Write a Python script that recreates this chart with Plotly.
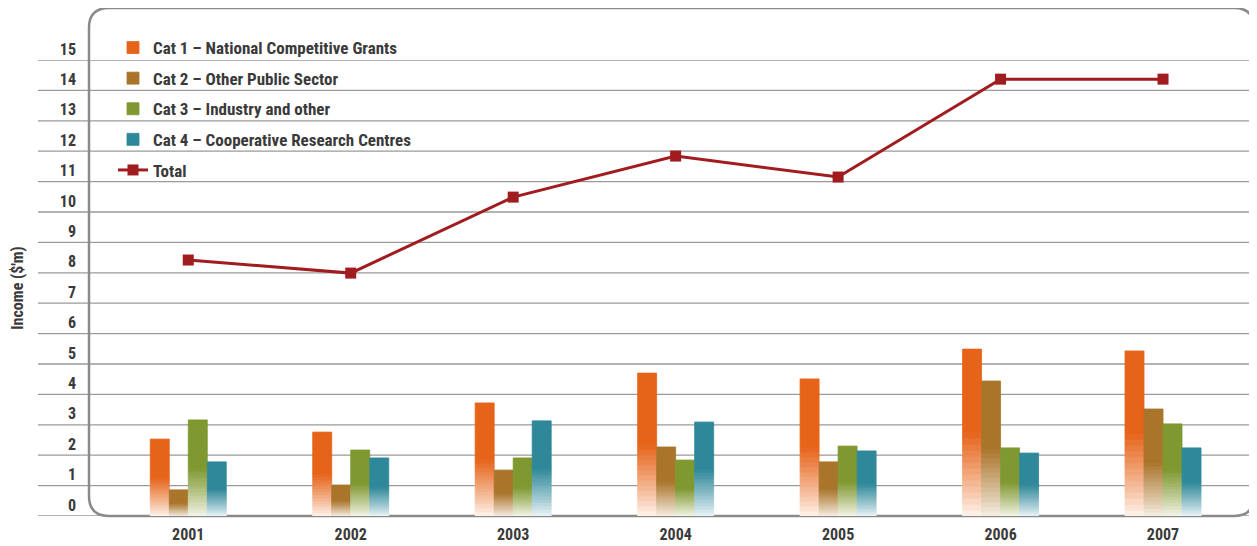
import numpy as np
import plotly.graph_objects as go

years = ["2001", "2002", "2003", "2004", "2005", "2006", "2007"]
cat_names = [
    "Cat 1 – National Competitive Grants",
    "Cat 2 – Other Public Sector",
    "Cat 3 – Industry and other",
    "Cat 4 – Cooperative Research Centres",
]
cat1 = [2.53, 2.76, 3.72, 4.70, 4.51, 5.49, 5.43]
cat2 = [0.86, 1.02, 1.51, 2.27, 1.78, 4.44, 3.52]
cat3 = [3.16, 2.17, 1.91, 1.84, 2.30, 2.24, 3.03]
cat4 = [1.78, 1.91, 3.13, 3.09, 2.14, 2.07, 2.24]
total = [8.42, 7.99, 10.49, 11.84, 11.15, 14.37, 14.37]
y_ticks = list(range(0, 16))

cat_colors = ["#e6641a", "#a9752b", "#7f9830", "#2f8899"]
pale_colors = ["#fff6ef", "#f8f1e8", "#f6f7ec", "#eef6f9"]
line_color = "#a11c1e"

FONT = "Liberation Sans Narrow, Arial Narrow, Roboto Condensed, sans-serif"
TEXT = "#3a3a3a"

def hex2rgb(h):
    h = h.lstrip("#")
    return np.array([int(h[i:i + 2], 16) for i in (0, 2, 4)], dtype=float)

def mix(c0, c1, t):
    c = hex2rgb(c0) * (1 - t) + hex2rgb(c1) * t
    return "rgb(%d,%d,%d)" % tuple(np.round(c).astype(int))

fig = go.Figure()

series = [cat1, cat2, cat3, cat4]
bar_w = 0.117
n_seg = 14
frac = 0.5
for ci, vals in enumerate(series):
    v = np.array(vals, dtype=float)
    off = -2 * bar_w + ci * bar_w
    # gradient segments (bottom part)
    for j in range(n_seg):
        t = (j + 0.5) / n_seg
        col = mix(pale_colors[ci], cat_colors[ci], t ** 0.9)
        fig.add_trace(go.Bar(
            x=years, y=v * frac / n_seg, base=v * frac * j / n_seg,
            offset=off, width=bar_w,
            marker=dict(color=col, line=dict(color=col, width=0.8)),
            showlegend=False, legendgroup="c%d" % ci, hoverinfo="skip",
        ))
    # solid top
    fig.add_trace(go.Bar(
        x=years, y=v * (1 - frac), base=v * frac,
        offset=off, width=bar_w,
        marker=dict(color=cat_colors[ci], line=dict(color=cat_colors[ci], width=0.8)),
        name=cat_names[ci], legendgroup="c%d" % ci, legendrank=ci + 1,
        customdata=v, hovertemplate="%{x}: %{customdata}<extra>" + cat_names[ci] + "</extra>",
    ))

fig.add_trace(go.Scatter(
    x=years, y=total, mode="lines+markers", name="Total",
    line=dict(color=line_color, width=3),
    marker=dict(symbol="square", size=11, color=line_color),
    legendgroup="tot", legendrank=5,
))

# figure geometry (px); page body adds an 8px offset
L, R, T, B = 81, 11, 52, 38
W, H = 1257, 546
pw, ph = W - L - R, H - T - B
top_frame = (H - B - 0) / ph
rx, ry = 20 / pw, 20 / ph
path = (f"M 0,{top_frame - ry} L 0,{ry} Q 0,0 {rx},0 L {1 - rx},0 Q 1,0 1,{ry} "
        f"L 1,{top_frame - ry} Q 1,{top_frame} {1 - rx},{top_frame} L {rx},{top_frame} "
        f"Q 0,{top_frame} 0,{top_frame - ry} Z")

shapes = []
for k in y_ticks:
    shapes.append(dict(type="line", xref="paper", yref="y", x0=(30 - L) / pw, x1=1,
                       y0=k, y1=k, line=dict(color="#9a9a9a", width=1.3), layer="below"))
shapes.append(dict(type="path", xref="paper", yref="paper", path=path,
                   line=dict(color="#8a8a8a", width=2.5), layer="below"))

fig.update_layout(
    width=W, height=H,
    margin=dict(l=L, r=R, t=T, b=B, pad=0, autoexpand=False),
    barmode="overlay",
    plot_bgcolor="white", paper_bgcolor="white",
    font=dict(family=FONT, size=14, color=TEXT, weight="bold"),
    shapes=shapes,
    showlegend=True,
    legend=dict(x=24 / pw, y=1 + (T - 22) / ph, xanchor="left", yanchor="top",
                bgcolor="rgba(0,0,0,0)", tracegroupgap=5.5,
                font=dict(family=FONT, size=17, color=TEXT, weight="bold")),
    xaxis=dict(range=[-0.611, 6.56], showgrid=False, zeroline=False, showline=False,
               ticks="", tickfont=dict(size=16), automargin=False, ticklabelstandoff=7),
    yaxis=dict(range=[0, 15], tickvals=y_ticks, showgrid=False, zeroline=False,
               showline=False, ticks="", ticklabelshift=-11, ticklabelstandoff=12,
               tickfont=dict(size=16), automargin=False,
               title=dict(text="Income ($'m)", standoff=40,
                          font=dict(size=16, family=FONT, color=TEXT, weight="bold"))),
)

fig.write_html("out.html")
